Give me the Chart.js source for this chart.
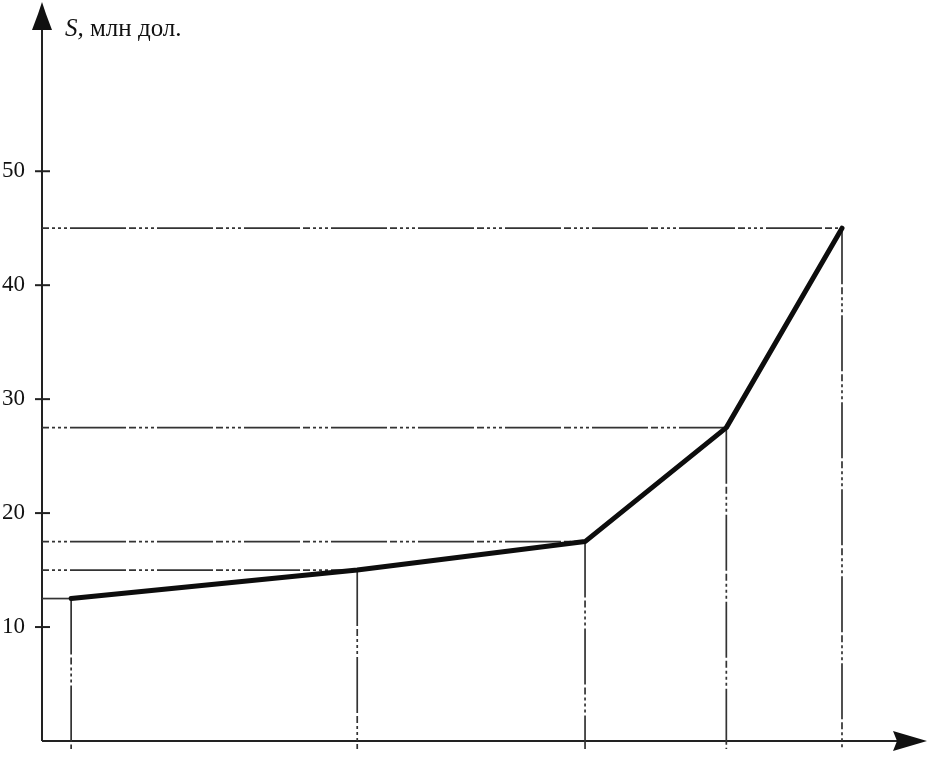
<!DOCTYPE html>
<html><head><meta charset="utf-8">
<script src="https://cdn.jsdelivr.net/npm/chart.js@4"></script>
<style>html,body{margin:0;padding:0;background:#fff}</style>
</head><body>
<canvas id="c" width="940" height="760"></canvas>
<script>
// Data (x has no labels: arbitrary units 0..100)
const xValues = [3.3, 35.7, 61.5, 77.5, 90.6];
const sValues = [12.5, 15, 17.5, 27.5, 45];
const yTicks = [10, 20, 30, 40, 50];
const yTitleItalic = 'S,';
const yTitleText = ' млн дол.';

const GUIDE_DASH = [56, 3, 7, 3, 3, 3, 3, 3, 3, 3];
const mainData = xValues.map((x, i) => ({x: x, y: sValues[i]}));
const datasets = [{
  data: mainData, borderColor: '#0d0d0d', borderWidth: 5, pointRadius: 0,
  tension: 0, order: 0, borderCapStyle: 'round', borderJoinStyle: 'round'
}];
xValues.forEach((x, i) => {
  datasets.push({
    data: [{x: 0, y: sValues[i]}, {x: x, y: sValues[i]}],
    borderColor: '#333', borderWidth: 1.7, pointRadius: 0, order: 2, clip: false,
    borderDash: i === 0 ? [] : GUIDE_DASH, borderDashOffset: 59
  });
  datasets.push({
    data: [{x: x, y: sValues[i]}, {x: x, y: -0.7}],
    borderColor: '#333', borderWidth: 1.7, pointRadius: 0, order: 2, clip: false,
    borderDash: GUIDE_DASH, borderDashOffset: 0
  });
});

const axesPlugin = {
  id: 'axesPlugin',
  beforeDatasetsDraw(chart) {
    const ctx = chart.ctx, xs = chart.scales.x, ys = chart.scales.y;
    const x0 = xs.getPixelForValue(0), y0 = ys.getPixelForValue(0);
    ctx.save();
    ctx.strokeStyle = '#222'; ctx.fillStyle = '#111'; ctx.lineWidth = 2;
    // y axis
    ctx.beginPath(); ctx.moveTo(x0, y0); ctx.lineTo(x0, 20); ctx.stroke();
    ctx.beginPath();
    ctx.moveTo(x0, 2); ctx.lineTo(x0 + 4, 14); ctx.lineTo(x0 + 10, 30);
    ctx.lineTo(x0 - 10, 30); ctx.lineTo(x0 - 4, 14); ctx.closePath(); ctx.fill();
    // x axis
    ctx.beginPath(); ctx.moveTo(x0, y0); ctx.lineTo(900, y0); ctx.stroke();
    ctx.beginPath();
    ctx.moveTo(927, y0); ctx.lineTo(893, y0 - 10); ctx.lineTo(897, y0); ctx.lineTo(893, y0 + 10);
    ctx.closePath(); ctx.fill();
    // y tick marks
    yTicks.forEach(v => {
      const py = ys.getPixelForValue(v);
      ctx.beginPath(); ctx.moveTo(x0 - 7, py); ctx.lineTo(x0 + 8, py); ctx.stroke();
    });
    // title
    ctx.fillStyle = '#111';
    ctx.textBaseline = 'alphabetic'; ctx.textAlign = 'left';
    ctx.font = 'italic 25px "Liberation Serif"';
    ctx.fillText(yTitleItalic, 65, 36);
    const w = ctx.measureText(yTitleItalic).width;
    ctx.font = '25px "Liberation Serif"';
    ctx.fillText(yTitleText, 65 + w, 36);
    ctx.restore();
  }
};

new Chart(document.getElementById('c'), {
  type: 'line',
  data: {datasets},
  options: {
    responsive: false, animation: false, devicePixelRatio: 1,
    layout: {padding: {left: 0, right: 15, top: 6, bottom: 19}},
    plugins: {legend: {display: false}, tooltip: {enabled: false}},
    scales: {
      x: {type: 'linear', min: 0, max: 100, display: false},
      y: {
        type: 'linear', min: 0, max: 64.5,
        grid: {display: false, drawTicks: false}, border: {display: false},
        ticks: {
          stepSize: 10, padding: 17, color: '#111',
          font: {family: 'Liberation Serif', size: 23},
          callback: v => yTicks.includes(v) ? String(v) : null
        },
        afterFit: s => { s.width = 42; s.paddingTop = 0; s.paddingBottom = 0; }
      }
    }
  },
  plugins: [axesPlugin]
});
</script>
</body></html>
